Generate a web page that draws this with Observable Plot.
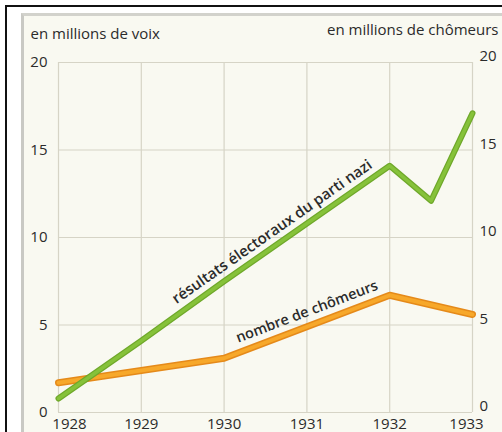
<!DOCTYPE html>
<html><head><meta charset="utf-8">
<script src="https://cdn.jsdelivr.net/npm/d3@7"></script>
<script src="https://cdn.jsdelivr.net/npm/@observablehq/plot@0.6"></script>
<style>
html,body{margin:0;padding:0;background:#fff;}
#wrap{position:relative;width:502px;height:432px;overflow:hidden;background:#fff;font-family:"Open Sans",sans-serif;}
#black{position:absolute;left:5px;top:5px;width:600px;height:600px;border-left:2px solid #111;border-top:2px solid #111;}
#frame{position:absolute;left:21px;top:13px;width:600px;height:600px;border-left:3px solid #c9c9c4;border-top:3px solid #d2d2cc;background:#f9f9f1;}
#chart{position:absolute;left:0;top:0;}
</style></head>
<body><div id="wrap"><div id="black"></div><div id="frame"></div><div id="chart"></div></div>
<script>
const years = [1928, 1929, 1930, 1931, 1932, 1933];
const yTicks = [0, 5, 10, 15, 20];
const voteYears = [1928, 1929, 1930, 1931, 1932, 1932.5, 1933];
const votes = [0.8, 4.1, 7.5, 10.8, 14.1, 12.1, 17.1];
const unemployed = [1.7, 2.4, 3.1, 4.9, 6.7, 5.6];
const leftTitle = "en millions de voix";
const rightTitle = "en millions de chômeurs";
const voteLabel = "résultats électoraux du parti nazi";
const unempLabel = "nombre de chômeurs";

const voteData = voteYears.map((x, i) => ({x, y: votes[i]}));
const unempData = years.map((x, i) => ({x, y: unemployed[i]}));

const W = 502, H = 432, mt = 62, mb = 20, ml = 58, mr = 30;
const pxYear = (W - ml - mr) / (years[years.length-1] - years[0]);
const pxUnit = (H - mt - mb) / 20;
function onLine(data, x) {
  for (let i = 1; i < data.length; i++) {
    if (x <= data[i].x) {
      const a = data[i-1], b = data[i];
      const t = (x - a.x) / (b.x - a.x);
      return {y: a.y + t * (b.y - a.y), angle: -Math.atan2((b.y - a.y) * pxUnit, (b.x - a.x) * pxYear) * 180 / Math.PI};
    }
  }
}
const vl = onLine(voteData, 1930.58);
const ul = onLine(unempData, 1931.0);

const fs = 15;
const ink = "#2b2b2b";
const chart = Plot.plot({
  width: W, height: H,
  marginTop: mt, marginBottom: mb, marginLeft: ml, marginRight: mr,
  style: {background: "transparent", fontFamily: '"Open Sans", sans-serif', fontSize: fs + "px", color: ink},
  x: {domain: [1928, 1933]},
  y: {domain: [0, 20]},
  marks: [
    Plot.ruleX(years, {stroke: "#d6d4c6", strokeWidth: 1.2}),
    Plot.ruleY(yTicks, {stroke: "#d6d4c6", strokeWidth: 1.2}),
    Plot.axisY(yTicks, {anchor: "left", tickSize: 0, tickPadding: 11, tickFormat: d => String(d), fontSize: fs, fill: ink, label: null}),
    Plot.axisY(yTicks, {anchor: "right", tickSize: 0, tickPadding: 7, dy: -6, tickFormat: d => String(d), fontSize: fs, fill: ink, label: null}),
    Plot.axisX(years.slice(1, -1), {anchor: "bottom", tickSize: 0, tickPadding: 6, tickFormat: d => String(d), fontSize: fs, fill: ink, label: null}),
    Plot.axisX([years[0]], {anchor: "bottom", tickSize: 0, tickPadding: 6, dx: 11, tickFormat: d => String(d), fontSize: fs, fill: ink, label: null}),
    Plot.axisX([years[years.length-1]], {anchor: "bottom", tickSize: 0, tickPadding: 6, dx: -6, tickFormat: d => String(d), fontSize: fs, fill: ink, label: null}),
    Plot.line(unempData, {x: "x", y: "y", stroke: "#e58a1a", strokeWidth: 7, strokeLinejoin: "round", strokeLinecap: "round"}),
    Plot.line(unempData, {x: "x", y: "y", stroke: "#f7a82a", strokeWidth: 4, strokeLinejoin: "round", strokeLinecap: "round"}),
    Plot.line(voteData, {x: "x", y: "y", stroke: "#6fa82a", strokeWidth: 6, strokeLinejoin: "round", strokeLinecap: "round"}),
    Plot.line(voteData, {x: "x", y: "y", stroke: "#86c23a", strokeWidth: 3.5, strokeLinejoin: "round", strokeLinecap: "round"}),
    Plot.text([voteLabel], {x: () => 1930.58, y: () => vl.y, text: d => d, rotate: vl.angle, dy: -16, fontSize: 15, fill: ink, fontWeight: 600}),
    Plot.text([unempLabel], {x: () => 1931.0, y: () => ul.y, text: d => d, rotate: ul.angle, dy: -15, fontSize: 14.5, fill: ink, fontWeight: 600}),
    Plot.text([leftTitle], {frameAnchor: "top-left", text: d => d, textAnchor: "start", lineAnchor: "bottom", dx: -28, dy: -24, fontSize: fs, fill: ink}),
    Plot.text([rightTitle], {frameAnchor: "top-right", text: d => d, textAnchor: "end", lineAnchor: "bottom", dx: 26, dy: -28, fontSize: fs, fill: ink})
  ]
});
document.getElementById("chart").appendChild(chart);
</script>
</body></html>
